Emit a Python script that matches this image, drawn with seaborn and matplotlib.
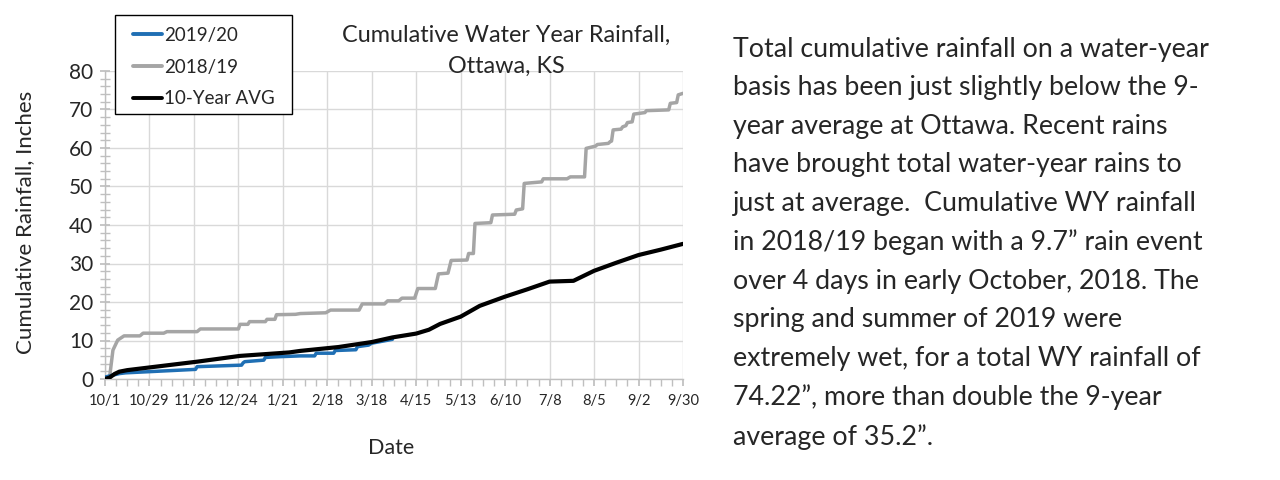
import matplotlib
matplotlib.use("Agg")
import matplotlib.pyplot as plt
import seaborn as sns
import pandas as pd
from matplotlib.ticker import MultipleLocator
from matplotlib.patches import Rectangle

# ---- data (day offsets from 10/1, cumulative inches) ----
days_1819 = [0, 3, 5, 8, 12, 22, 24, 37, 39, 58, 60, 84, 85, 90, 91, 101, 102, 107, 108, 120,
             123, 139, 142, 160, 162, 176, 178, 185, 187, 195, 197, 208, 210, 216, 218, 228,
             229, 232, 233, 243, 244, 258, 259, 263, 264, 275, 276, 291, 293, 302, 303, 309,
             310, 317, 318, 319, 320, 325, 326, 328, 329, 332, 333, 340, 341, 355, 356, 360, 361, 364]
vals_1819 = [0.3, 0.8, 7.5, 10.1, 11.2, 11.2, 11.9, 11.9, 12.3, 12.3, 13.0, 13.0, 14.2, 14.2, 14.9,
             14.9, 15.5, 15.5, 16.7, 16.8, 17.0, 17.2, 17.9, 17.9, 19.5, 19.5, 20.3, 20.3, 21.0,
             21.0, 23.5, 23.5, 27.3, 27.5, 30.8, 30.9, 32.6, 32.6, 40.4, 40.6, 42.6, 42.8, 43.9,
             44.2, 50.8, 51.2, 52.0, 52.0, 52.5, 52.5, 59.9, 60.5, 60.9, 61.2, 61.6, 61.8, 64.7,
             64.9, 65.5, 65.8, 66.6, 66.8, 68.8, 69.2, 69.7, 69.9, 71.6, 71.8, 73.8, 74.2]

days_avg = [0, 3, 6, 9, 14, 30, 58, 85, 116, 123, 147, 168, 181, 196, 204, 211, 224, 236, 252,
            266, 280, 295, 308, 322, 336, 350, 364]
vals_avg = [0.0, 0.4, 1.3, 1.9, 2.3, 3.1, 4.5, 6.0, 6.9, 7.3, 8.3, 9.6, 10.8, 11.8, 12.8, 14.3,
            16.2, 19.0, 21.4, 23.3, 25.3, 25.5, 28.1, 30.2, 32.2, 33.6, 35.1]

days_1920 = [0, 5, 9, 13, 57, 58, 86, 87, 88, 100, 101, 110, 123, 132, 133, 144, 145, 158, 159,
             166, 168, 181]
vals_1920 = [0.5, 1.0, 1.4, 1.6, 2.5, 3.2, 3.6, 4.2, 4.5, 4.9, 5.6, 5.8, 6.0, 6.0, 6.7, 6.7, 7.4,
             7.6, 8.4, 8.8, 9.3, 10.3]

tick_labels = ["10/1", "10/29", "11/26", "12/24", "1/21", "2/18", "3/18", "4/15", "5/13",
               "6/10", "7/8", "8/5", "9/2", "9/30"]

series_names = ["2019/20", "2018/19", "10-Year AVG"]
series_colors = ["#1f6fb4", "#a5a5a5", "#000000"]

note = ("Total cumulative rainfall on a water-year\n"
        "basis has been just slightly below the 9-\n"
        "year average at Ottawa. Recent rains\n"
        "have brought total water-year rains to\n"
        "just at average.  Cumulative WY rainfall\n"
        "in 2018/19 began with a 9.7\u201d rain event\n"
        "over 4 days in early October, 2018. The\n"
        "spring and summer of 2019 were\n"
        "extremely wet, for a total WY rainfall of\n"
        "74.22\u201d, more than double the 9-year\n"
        "average of 35.2\u201d.")

df = pd.concat([
    pd.DataFrame({"day": days_1920, "val": vals_1920, "series": series_names[0]}),
    pd.DataFrame({"day": days_1819, "val": vals_1819, "series": series_names[1]}),
    pd.DataFrame({"day": days_avg, "val": vals_avg, "series": series_names[2]}),
])

sns.set_theme(style="white")
plt.rcParams['font.family'] = ['Lato', 'DejaVu Sans']

fig = plt.figure(figsize=(12.8, 4.8), dpi=100)
ax = fig.add_axes([105/1280, 1-379/480, (683-105)/1280, (379-71)/480])

sns.lineplot(data=df, x="day", y="val", hue="series", hue_order=series_names,
             palette=dict(zip(series_names, series_colors)), sort=False,
             estimator=None, linewidth=2.5, ax=ax, legend=True)
for line, z in zip(ax.get_lines(), [3, 2, 4]):
    line.set_zorder(z)
ax.get_lines()[2].set_linewidth(3.0)

ax.set_xlim(0, 364)
ax.set_ylim(0, 80)
ax.set_xticks([28*i for i in range(len(tick_labels))])
ax.set_xticklabels(tick_labels, fontsize=10.5)
ax.xaxis.set_minor_locator(MultipleLocator(7))
ax.yaxis.set_major_locator(MultipleLocator(10))
ax.yaxis.set_minor_locator(MultipleLocator(2))
ax.tick_params(axis='y', which='major', labelsize=15, length=7, direction='inout',
               color='#bfbfbf', left=True, pad=5)
ax.tick_params(axis='y', which='minor', length=7, direction='inout', color='#bfbfbf', left=True)
ax.tick_params(axis='x', which='both', length=5, direction='out', color='#bfbfbf', bottom=True,
               pad=6)
ax.grid(True, which='major', color='#d9d9d9', linewidth=1)
for s in ['top', 'right']:
    ax.spines[s].set_visible(False)
for s in ['left', 'bottom']:
    ax.spines[s].set_color('#bfbfbf')
    ax.spines[s].set_linewidth(1)

ax.set_xlabel("Date", fontsize=15.5)
ax.set_ylabel("Cumulative Rainfall, Inches", fontsize=16)
ax.xaxis.set_label_coords((391-105)/578, (379-448)/308)
ax.yaxis.set_label_coords((25-105)/578, (379-222)/308)
ax.xaxis.label.set_va('center')
ax.yaxis.label.set_va('center')

leg = ax.legend(loc='upper left', bbox_to_anchor=(133/1280, 1-27/480),
                bbox_transform=fig.transFigure, fontsize=13.5, frameon=False,
                handlelength=1.55, handletextpad=0.1, labelspacing=0.78, borderpad=0,
                borderaxespad=0)
for h in leg.get_lines():
    h.set_linewidth(2.8)
fig.patches.append(Rectangle((115/1280, 1-114/480), (292-115)/1280, (114-15)/480,
                             transform=fig.transFigure, fill=True, facecolor='white',
                             edgecolor='black', linewidth=1, zorder=5))
leg.set_zorder(6)
leg.remove()
fig.legends.append(leg)
leg.set_figure(fig)

fig.text(506/1280, 1-51/480, "Cumulative Water Year Rainfall,\nOttawa, KS",
         ha='center', va='center', fontsize=16.8, linespacing=1.6)

fig.text(733/1280, 1-37/480, note, ha='left', va='top', fontsize=19.3, linespacing=1.67)

fig.savefig("out.png", dpi=100)
